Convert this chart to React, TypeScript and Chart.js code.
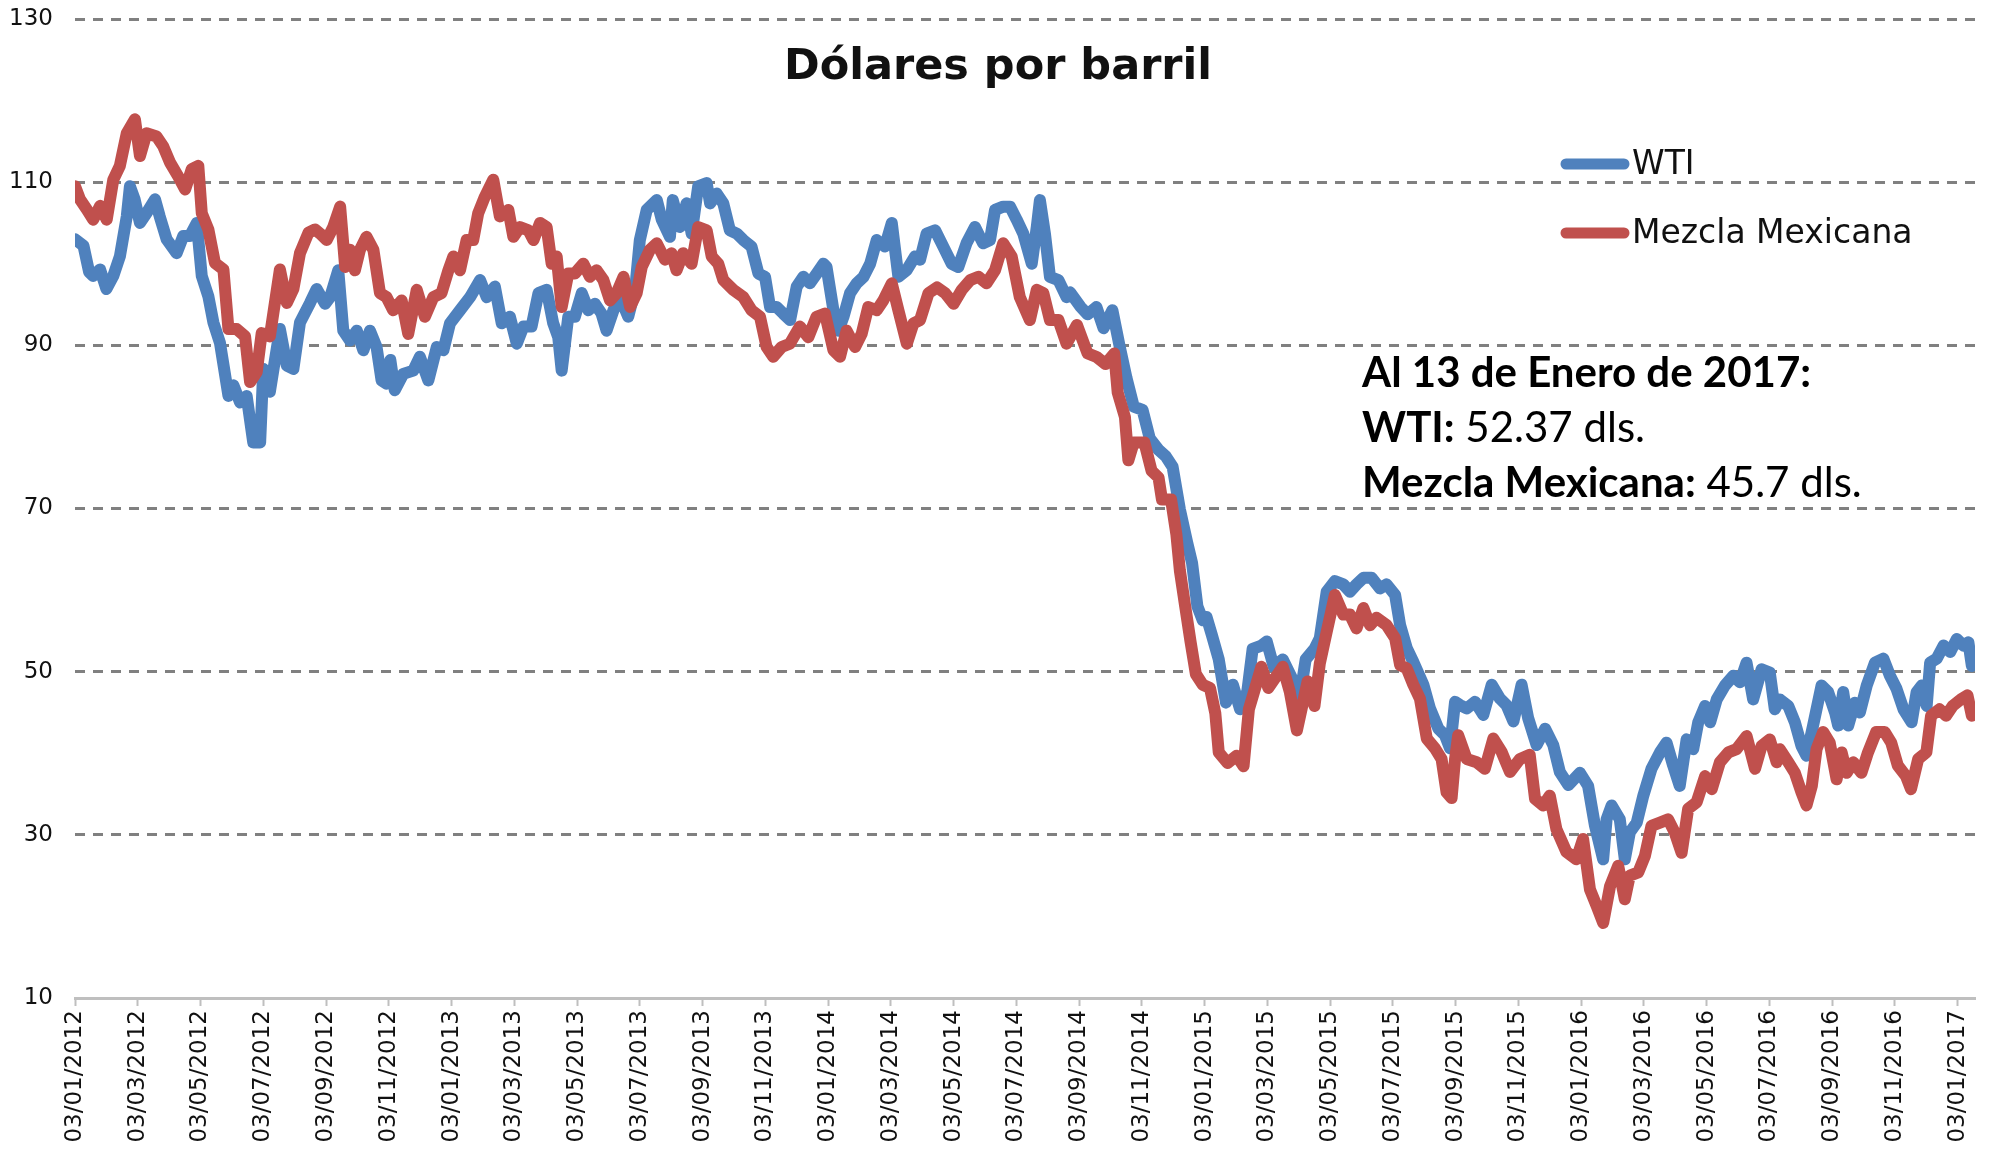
import React, { useEffect, useRef } from "react";
import { Chart, registerables } from "chart.js";

Chart.register(...registerables);

// ---------- DATA ----------
const tickLabels = [
  "03/01/2012", "03/03/2012", "03/05/2012", "03/07/2012", "03/09/2012", "03/11/2012",
  "03/01/2013", "03/03/2013", "03/05/2013", "03/07/2013", "03/09/2013", "03/11/2013",
  "03/01/2014", "03/03/2014", "03/05/2014", "03/07/2014", "03/09/2014", "03/11/2014",
  "03/01/2015", "03/03/2015", "03/05/2015", "03/07/2015", "03/09/2015", "03/11/2015",
  "03/01/2016", "03/03/2016", "03/05/2016", "03/07/2016", "03/09/2016", "03/11/2016",
  "03/01/2017",
];
// position of each tick label, in months since 03/01/2012
const tickMonths = [
  0, 2, 4, 6, 8, 10, 12, 14, 16, 18, 20, 22, 24, 26, 28, 30,
  32, 34, 36, 38, 40, 42, 44, 46, 48, 50, 52, 54, 56, 58, 60,
];

const yTicks = [10, 30, 50, 70, 90, 110, 130];

const wtiMonths = [
  0, 0.27, 0.45, 0.58, 0.8, 1.0, 1.22, 1.43, 1.65, 1.75, 1.9, 2.07, 2.28, 2.55, 2.7, 2.92,
  3.24, 3.45, 3.66, 3.88, 4.04, 4.25, 4.41, 4.62, 4.89, 5.05, 5.26, 5.47, 5.68, 5.9, 6.0, 6.21,
  6.53, 6.75, 6.96, 7.17, 7.49, 7.7, 7.97, 8.13, 8.39, 8.55, 8.76, 8.98, 9.19, 9.4, 9.61, 9.77,
  9.93, 10.05, 10.19, 10.46, 10.78, 10.99, 11.26, 11.53, 11.74, 11.95, 12.27, 12.59, 12.91, 13.12,
  13.38, 13.6, 13.86, 14.08, 14.29, 14.55, 14.77, 15.03, 15.24, 15.4, 15.51, 15.72, 15.93, 16.15,
  16.36, 16.57, 16.78, 16.94, 17.16, 17.37, 17.63, 17.85, 18.0, 18.22, 18.54, 18.7, 18.96, 19.05,
  19.28, 19.49, 19.65, 19.86, 20.13, 20.24, 20.45, 20.66, 20.87, 21.09, 21.3, 21.56, 21.78, 21.99,
  22.15, 22.36, 22.57, 22.79, 23.0, 23.21, 23.42, 23.64, 23.85, 23.95, 24.17, 24.33, 24.49, 24.7,
  24.91, 25.13, 25.34, 25.55, 25.81, 26.03, 26.24, 26.5, 26.77, 26.93, 27.14, 27.41, 27.67, 27.94,
  28.15, 28.41, 28.68, 28.94, 29.16, 29.32, 29.58, 29.8, 30.01, 30.22, 30.49, 30.65, 30.75, 30.91,
  31.07, 31.34, 31.6, 31.71, 32.05, 32.27, 32.55, 32.78, 33.06, 33.29, 33.51, 33.74, 34.02, 34.25,
  34.53, 34.76, 34.98, 35.21, 35.44, 35.6, 35.77, 35.94, 36.06, 36.23, 36.45, 36.68, 36.9, 37.13,
  37.36, 37.53, 37.81, 37.98, 38.2, 38.49, 38.77, 38.99, 39.22, 39.5, 39.67, 39.89, 40.15, 40.42,
  40.63, 40.84, 41.06, 41.32, 41.59, 41.8, 42.07, 42.23, 42.44, 42.65, 42.97, 43.18, 43.45, 43.66,
  43.82, 43.98, 44.14, 44.35, 44.62, 44.88, 45.15, 45.41, 45.62, 45.84, 46.1, 46.31, 46.58, 46.85,
  47.11, 47.32, 47.59, 47.96, 48.22, 48.44, 48.7, 48.81, 48.97, 49.23, 49.39, 49.55, 49.77, 49.98,
  50.24, 50.51, 50.72, 50.93, 51.14, 51.36, 51.57, 51.73, 51.95, 52.11, 52.32, 52.58, 52.85, 53.06,
  53.27, 53.48, 53.75, 54.01, 54.17, 54.33, 54.6, 54.81, 55.02, 55.18, 55.39, 55.66, 55.87, 56.09,
  56.19, 56.35, 56.51, 56.72, 56.88, 57.1, 57.36, 57.63, 57.84, 58.05, 58.27, 58.53, 58.69, 58.85,
  59.01, 59.12, 59.33, 59.55, 59.76, 59.97, 60.18, 60.34, 60.45,
];
const wtiPrices = [
  103.0, 102.2, 99.0, 98.5, 99.3, 96.9, 98.5, 100.9, 105.8, 109.5, 107.9, 105.0, 106.2, 107.9, 105.8, 103.0,
  101.3, 103.4, 103.4, 105.0, 98.5, 96.0, 92.8, 90.3, 83.8, 85.1, 83.0, 83.8, 78.1, 78.1, 87.1, 84.3,
  92.0, 87.5, 87.1, 92.8, 95.2, 96.9, 95.1, 95.9, 99.2, 91.8, 90.6, 91.8, 89.4, 91.8, 89.8, 85.7,
  85.3, 88.2, 84.5, 86.5, 86.9, 88.6, 85.7, 89.8, 89.4, 92.7, 94.3, 95.9, 98.0, 95.9,
  97.2, 92.7, 93.5, 90.2, 92.3, 92.3, 96.4, 96.8, 92.7, 91.0, 86.9, 93.5, 93.5, 96.4,
  94.3, 95.1, 93.9, 91.8, 94.3, 95.9, 93.5, 96.8, 102.9, 106.6, 107.8, 105.4, 103.3, 107.8,
  104.5, 107.4, 103.7, 109.5, 109.9, 107.4, 108.6, 107.4, 104.1, 103.7, 102.9, 102.1, 98.8, 98.4,
  94.7, 94.7, 93.9, 93.1, 97.2, 98.4, 97.6, 98.8, 100.0, 99.6, 94.3, 91.8, 93.5, 96.4,
  97.6, 98.4, 100.0, 102.9, 102.1, 105.0, 98.4, 99.2, 100.9, 100.5, 103.7, 104.1, 102.1, 100.0,
  99.6, 102.5, 104.5, 102.5, 102.9, 106.6, 107.0, 107.0, 105.4, 103.7, 100.0, 104.5, 107.8, 103.7,
  98.4, 98.0, 95.9, 96.5, 94.7, 93.8, 94.7, 92.1, 94.3, 89.9, 86.0, 82.5, 82.1, 78.6,
  77.2, 76.4, 75.1, 69.9, 65.9, 63.3, 58.0, 56.3, 56.7, 54.5, 51.5, 46.2, 48.4, 45.4,
  47.6, 52.8, 53.2, 53.7, 50.6, 51.5, 49.3, 45.8, 51.5, 52.8, 54.1, 59.8, 61.1, 60.7,
  59.8, 60.7, 61.5, 61.5, 60.2, 60.7, 59.4, 55.7, 52.9, 51.2, 48.4, 45.5, 43.0, 42.2,
  40.6, 46.3, 45.9, 45.5, 46.3, 44.7, 48.4, 46.7, 45.9, 43.9, 48.4, 44.3, 41.0, 43.0,
  41.0, 37.7, 36.1, 37.6, 36.0, 31.1, 27.0, 31.9, 33.6, 31.9, 27.0, 30.3, 31.5, 34.8,
  38.1, 40.1, 41.3, 38.5, 36.0, 41.7, 40.5, 43.8, 45.8, 43.8, 46.6, 48.3, 49.5, 48.7,
  51.1, 46.6, 50.3, 49.9, 45.4, 46.6, 45.8, 43.8, 40.9, 39.7, 43.4, 48.3, 47.5, 45.0,
  43.4, 47.5, 43.4, 46.2, 45.0, 48.3, 51.1, 51.6, 49.5, 47.9, 45.4, 43.8, 47.5, 48.3,
  45.8, 51.1, 51.6, 53.2, 52.4, 54.0, 53.2, 53.6, 50.7,
];

const mezclaMonths = [
  0, 0.16, 0.37, 0.58, 0.8, 1.01, 1.22, 1.43, 1.65, 1.91, 2.07, 2.28, 2.6, 2.81, 3.03, 3.29,
  3.51, 3.72, 3.93, 4.04, 4.25, 4.46, 4.73, 4.89, 5.15, 5.42, 5.58, 5.79, 5.95, 6.21, 6.53, 6.75,
  6.96, 7.17, 7.44, 7.65, 7.81, 8.02, 8.23, 8.45, 8.61, 8.76, 8.92, 9.08, 9.29, 9.51, 9.72, 9.93,
  10.14, 10.41, 10.62, 10.89, 11.15, 11.42, 11.68, 11.9, 12.06, 12.27, 12.48, 12.69, 12.85, 13.06,
  13.33, 13.54, 13.81, 13.97, 14.18, 14.45, 14.61, 14.82, 15.03, 15.19, 15.35, 15.51, 15.72, 15.93,
  16.2, 16.41, 16.62, 16.84, 17.05, 17.26, 17.48, 17.69, 17.9, 18.06, 18.32, 18.54, 18.8, 19.01,
  19.17, 19.38, 19.65, 19.86, 20.13, 20.29, 20.5, 20.66, 20.98, 21.3, 21.56, 21.83, 22.04, 22.25,
  22.52, 22.78, 23.1, 23.37, 23.63, 23.9, 24.17, 24.38, 24.59, 24.86, 25.07, 25.28, 25.55, 25.76,
  26.03, 26.24, 26.51, 26.72, 26.93, 27.2, 27.47, 27.73, 28.0, 28.26, 28.53, 28.79, 29.05, 29.32,
  29.58, 29.85, 30.11, 30.43, 30.65, 30.86, 31.07, 31.34, 31.6, 31.93, 32.27, 32.55, 32.84, 33.12,
  33.23, 33.46, 33.57, 33.74, 34.08, 34.31, 34.53, 34.64, 34.93, 35.1, 35.21, 35.38, 35.55, 35.72,
  35.94, 36.17, 36.34, 36.45, 36.73, 37.02, 37.24, 37.41, 37.58, 37.81, 38.03, 38.26, 38.49, 38.71,
  38.94, 39.11, 39.28, 39.5, 39.67, 39.89, 40.15, 40.42, 40.63, 40.84, 41.06, 41.27, 41.48, 41.8,
  42.07, 42.23, 42.44, 42.65, 42.86, 43.08, 43.34, 43.55, 43.71, 43.87, 43.98, 44.08, 44.35, 44.67,
  44.93, 45.2, 45.46, 45.73, 46.05, 46.36, 46.53, 46.79, 47.0, 47.21, 47.53, 47.85, 48.06, 48.28,
  48.49, 48.7, 48.92, 49.18, 49.39, 49.55, 49.82, 50.03, 50.24, 50.51, 50.77, 50.98, 51.2, 51.41,
  51.68, 51.95, 52.16, 52.42, 52.69, 52.95, 53.27, 53.54, 53.75, 54.01, 54.23, 54.33, 54.6, 54.81,
  55.02, 55.18, 55.35, 55.5, 55.71, 55.92, 56.14, 56.3, 56.46, 56.67, 56.93, 57.14, 57.4, 57.67,
  57.88, 58.09, 58.35, 58.51, 58.74, 59.0, 59.15, 59.42, 59.63, 59.84, 60.1, 60.31, 60.45,
];
const mezclaPrices = [
  109.5, 107.9, 106.7, 105.4, 107.1, 105.4, 110.3, 112.0, 116.0, 117.7, 113.2, 116.0, 115.6, 114.4, 112.4, 110.7,
  109.1, 111.6, 112.0, 106.2, 104.2, 100.1, 99.3, 92.0, 92.0, 91.1, 85.5, 86.7, 91.5, 91.1, 99.3, 95.2,
  96.9, 101.3, 103.8, 104.2, 103.7, 102.9, 104.5, 107.0, 99.6, 101.7, 99.2, 101.7, 103.3, 101.7, 96.4, 95.9,
  94.3, 95.5, 91.4, 96.8, 93.5, 95.9, 96.4, 99.2, 100.9, 99.2, 102.9, 102.9, 106.2, 108.2,
  110.3, 105.8, 106.6, 103.3, 104.5, 104.1, 102.9, 105.0, 104.5, 100.0, 100.9, 94.7, 98.8, 98.8,
  100.0, 98.4, 99.2, 98.0, 95.5, 96.4, 98.4, 94.7, 96.4, 99.6, 101.7, 102.5, 100.5, 101.3,
  99.2, 101.3, 100.0, 104.5, 104.1, 100.9, 100.0, 98.0, 96.8, 95.9, 94.3, 93.5, 89.8, 88.6,
  89.8, 90.2, 92.3, 91.0, 93.5, 93.9, 89.4, 88.6, 91.8, 89.8, 91.4, 94.7, 94.3, 95.5,
  97.6, 94.3, 90.2, 92.7, 93.1, 96.4, 97.1, 96.4, 95.1, 96.8, 98.0, 98.4, 97.6, 99.2,
  102.5, 100.9, 95.9, 93.1, 96.8, 96.4, 93.1, 93.1, 90.2, 92.5, 89.0, 88.6, 87.7, 89.0,
  84.2, 81.2, 75.9, 78.1, 78.1, 74.6, 73.8, 71.1, 71.1, 66.8, 62.4, 58.0, 53.7, 49.7,
  48.4, 48.0, 44.9, 40.1, 38.8, 39.7, 38.4, 45.4, 47.6, 50.6, 48.0, 49.3, 50.6, 47.6,
  42.8, 45.8, 48.8, 45.8, 51.0, 54.9, 59.4, 57.0, 57.0, 55.3, 57.8, 55.7, 56.6, 55.7,
  54.1, 50.8, 50.4, 48.4, 46.7, 41.8, 40.6, 39.3, 35.2, 34.5, 39.3, 42.2, 39.3, 38.9,
  38.1, 41.8, 40.2, 37.7, 39.3, 39.8, 34.4, 33.6, 34.8, 30.7, 27.9, 27.0, 29.5, 23.3,
  21.3, 19.2, 23.7, 26.2, 22.1, 25.0, 25.4, 27.4, 31.1, 31.5, 31.9, 30.3, 27.8, 33.2,
  34.0, 37.2, 35.6, 38.9, 40.1, 40.5, 42.1, 38.1, 40.9, 41.7, 38.9, 40.5, 38.9, 37.6,
  35.2, 33.6, 36.0, 40.5, 42.6, 41.3, 36.8, 40.1, 37.6, 38.9, 37.6, 40.1, 42.6, 42.6,
  41.3, 38.5, 37.2, 35.6, 39.3, 40.1, 44.6, 45.4, 44.6, 45.8, 46.6, 47.1, 44.6,
];

const seriesNames = ["WTI", "Mezcla Mexicana"];
const seriesColors = ["#4F81BD", "#C0504D"];
const chartTitle = "Dólares por barril";
const noteLines = [
  [{ text: "Al 13 de Enero de 2017:", bold: true }],
  [{ text: "WTI:", bold: true }, { text: " 52.37 dls.", bold: false }],
  [{ text: "Mezcla Mexicana:", bold: true }, { text: " 45.7 dls.", bold: false }],
];

// ---------- OVERLAY (title, legend, note) ----------
const overlayPlugin = {
  id: "overlay",
  afterDraw(chart: any) {
    const ctx = chart.ctx;
    ctx.save();
    // title
    ctx.fillStyle = "#111";
    ctx.font = 'bold 43px "DejaVu Sans"';
    ctx.textAlign = "center";
    ctx.textBaseline = "middle";
    ctx.fillText(chartTitle, 998, 68);

    // legend
    const legendY = [164, 233];
    ctx.textAlign = "left";
    ctx.font = '33px "DejaVu Sans"';
    seriesNames.forEach((name, i) => {
      ctx.strokeStyle = seriesColors[i];
      ctx.lineWidth = 11;
      ctx.lineCap = "round";
      ctx.beginPath();
      ctx.moveTo(1566, legendY[i]);
      ctx.lineTo(1624, legendY[i]);
      ctx.stroke();
      ctx.fillStyle = "#111";
      ctx.fillText(name, 1632, legendY[i] + 1);
    });

    // note
    ctx.textBaseline = "alphabetic";
    const baselines = [387, 442, 497];
    noteLines.forEach((parts, i) => {
      let x = 1362;
      parts.forEach((p) => {
        ctx.font = (p.bold ? "bold " : "") + '42px "Lato"';
        ctx.fillStyle = "#000";
        ctx.fillText(p.text, x, baselines[i]);
        x += ctx.measureText(p.text).width;
      });
    });
    ctx.restore();
  },
};

export default function App() {
  const canvasRef = useRef<HTMLCanvasElement | null>(null);

  useEffect(() => {
    const canvas = canvasRef.current;
    if (!canvas) return;
    const chart = new Chart(canvas, {
      type: "line",
      data: {
        datasets: [
          {
            label: seriesNames[0],
            data: wtiMonths.map((m, i) => ({ x: m, y: wtiPrices[i] })),
            borderColor: seriesColors[0],
            backgroundColor: seriesColors[0],
            borderWidth: 12,
            pointRadius: 0,
            tension: 0,
            borderJoinStyle: "round",
            borderCapStyle: "round",
            order: 1,
          },
          {
            label: seriesNames[1],
            data: mezclaMonths.map((m, i) => ({ x: m, y: mezclaPrices[i] })),
            borderColor: seriesColors[1],
            backgroundColor: seriesColors[1],
            borderWidth: 12,
            pointRadius: 0,
            tension: 0,
            borderJoinStyle: "round",
            borderCapStyle: "round",
            order: 0,
          },
        ],
      },
      options: {
        animation: false,
        responsive: false,
        maintainAspectRatio: false,
        layout: { padding: { left: 0, top: 19, right: 19, bottom: 0 } },
        plugins: {
          legend: { display: false },
          title: { display: false },
          tooltip: { enabled: false },
        },
        scales: {
          x: {
            type: "linear",
            min: 0,
            max: 60.55,
            afterBuildTicks: (axis: any) => {
              axis.ticks = tickMonths.map((v) => ({ value: v }));
            },
            afterFit: (axis: any) => {
              axis.height = 152;
            },
            ticks: {
              autoSkip: false,
              maxRotation: 90,
              minRotation: 90,
              padding: 4,
              color: "#111",
              font: { family: "DejaVu Sans", size: 23 },
              callback: (value: any) => {
                const idx = tickMonths.indexOf(Number(value));
                return idx >= 0 ? tickLabels[idx] : "";
              },
            },
            grid: {
              drawOnChartArea: false,
              drawTicks: true,
              tickLength: 8,
              tickColor: "#BFBFBF",
              tickWidth: 2,
              color: "#BFBFBF",
            },
            border: { display: true, color: "#BFBFBF", width: 3 },
          },
          y: {
            type: "linear",
            min: 10,
            max: 130,
            afterBuildTicks: (axis: any) => {
              axis.ticks = yTicks.map((v) => ({ value: v }));
            },
            afterFit: (axis: any) => {
              axis.width = 75;
            },
            ticks: {
              padding: 0,
              color: "#111",
              font: { family: "DejaVu Sans", size: 23 },
            },
            grid: {
              drawTicks: true,
              tickLength: 22,
              tickColor: "rgba(0,0,0,0)",
              lineWidth: 3,
              color: (c: any) => (c.tick && c.tick.value === 10 ? "rgba(0,0,0,0)" : "#808080"),
            },
            border: { display: false, dash: [10, 8] },
          },
        },
      },
      plugins: [overlayPlugin],
    });
    return () => chart.destroy();
  }, []);

  return (
    <div style={{ position: "absolute", left: 0, top: 0, width: 1994, height: 1150, background: "#fff" }}>
      <canvas ref={canvasRef} width={1994} height={1150} style={{ width: 1994, height: 1150, display: "block" }} />
    </div>
  );
}
